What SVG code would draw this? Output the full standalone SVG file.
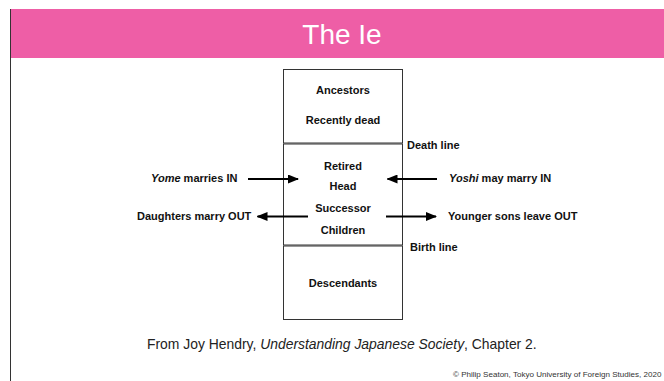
<svg xmlns="http://www.w3.org/2000/svg" width="664" height="381" viewBox="0 0 664 381">
<style>
  .box { fill: #ffffff; stroke: #333333; stroke-width: 1; }
  .lbl { font-family: "Liberation Sans", Arial, Helvetica, sans-serif; font-size: 11px; font-weight: bold; fill: #111111; }
  .c { text-anchor: middle; }
  .arrow { stroke: #000000; stroke-width: 2; fill: none; marker-end: url(#ah); }
</style>
<defs>
  <marker id="ah" markerUnits="userSpaceOnUse" markerWidth="11" markerHeight="9" refX="10" refY="4.5" orient="auto">
    <path d="M0,0 L11,4.5 L0,9 z" fill="#000000"/>
  </marker>
</defs>
<rect x="0" y="0" width="664" height="381" fill="#ffffff"/>
<g id="header">
  <rect x="11" y="9" width="653" height="49" fill="#ee5ea6"/>
  <line x1="10.5" y1="9" x2="10.5" y2="381" stroke="#333333" stroke-width="1"/>
  <text x="342" y="44" text-anchor="middle" font-family="Liberation Sans, Arial, Helvetica, sans-serif" font-size="28" fill="#ffffff">The Ie</text>
</g>
<g id="node-ancestors">
  <rect class="box" x="283.5" y="69.5" width="119" height="73.5"/>
  <text class="lbl c" x="343" y="94">Ancestors</text>
  <text class="lbl c" x="343" y="123.5">Recently dead</text>
</g>
<g id="node-household">
  <rect class="box" x="283.5" y="144" width="119" height="101"/>
  <text class="lbl c" x="343" y="169.5">Retired</text>
  <text class="lbl c" x="343" y="190">Head</text>
  <text class="lbl c" x="343" y="211.5">Successor</text>
  <text class="lbl c" x="343" y="234">Children</text>
</g>
<g id="node-descendants">
  <rect class="box" x="283.5" y="246" width="119" height="73.5"/>
  <text class="lbl c" x="343" y="287">Descendants</text>
</g>
<g id="line-labels">
  <text class="lbl" x="407" y="148.5">Death line</text>
  <text class="lbl" x="410" y="250.5">Birth line</text>
</g>
<g id="connectors">
  <line class="arrow" x1="248" y1="179" x2="298" y2="179"/>
  <line class="arrow" x1="437" y1="179" x2="387.5" y2="179"/>
  <line class="arrow" x1="308" y1="216.5" x2="257.5" y2="216.5"/>
  <line class="arrow" x1="386" y1="216.5" x2="436" y2="216.5"/>
</g>
<g id="flow-labels">
  <text class="lbl" x="151" y="182"><tspan font-style="italic">Yome</tspan> marries IN</text>
  <text class="lbl" x="449" y="182"><tspan font-style="italic">Yoshi</tspan> may marry IN</text>
  <text class="lbl" x="137" y="220">Daughters marry OUT</text>
  <text class="lbl" x="448" y="220">Younger sons leave OUT</text>
</g>
<g id="footer">
  <text x="147" y="349" font-family="Liberation Sans, Arial, Helvetica, sans-serif" font-size="13.9" fill="#222222">From Joy Hendry, <tspan font-style="italic">Understanding Japanese Society</tspan>, Chapter 2.</text>
  <text x="453" y="377" font-family="Liberation Sans, Arial, Helvetica, sans-serif" font-size="8.05" fill="#333333">© Philip Seaton, Tokyo University of Foreign Studies, 2020</text>
</g>
</svg>
